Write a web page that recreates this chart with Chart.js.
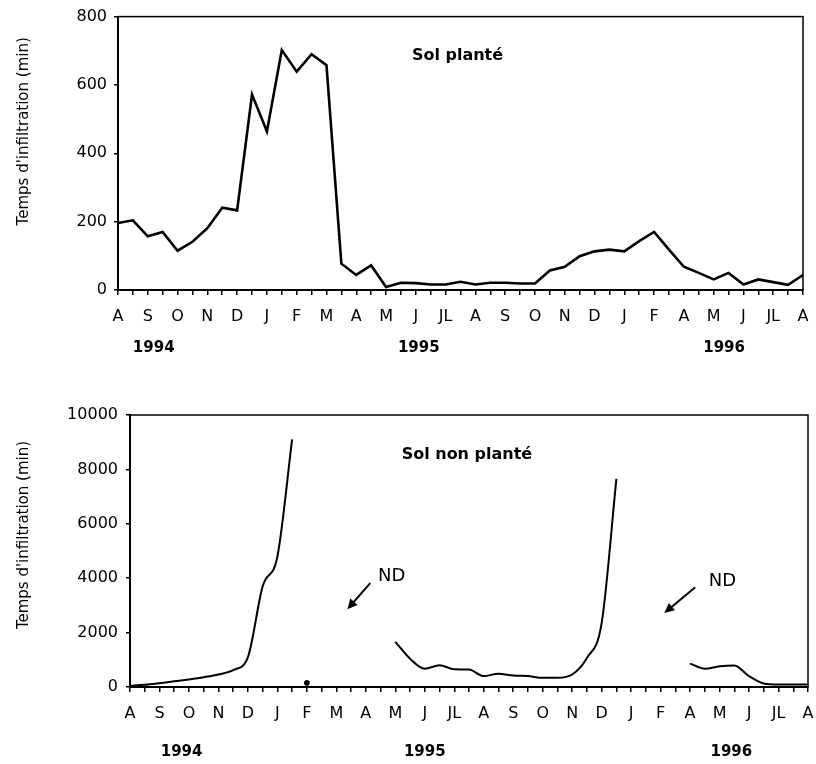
<!DOCTYPE html>
<html lang="fr">
<head>
    <meta charset="UTF-8">
    <title>Temps d'infiltration</title>
    <script src="https://cdn.jsdelivr.net/npm/chart.js"></script>
    <style>
        body { margin: 0; background: #fff; width: 816px; height: 764px; overflow: hidden; }
        .panel { position: absolute; left: 0; width: 816px; }
    </style>
</head>
<body>
    <div class="panel" style="top:0; height:380px;"><canvas id="topChart"></canvas></div>
    <div class="panel" style="top:380px; height:384px;"><canvas id="bottomChart"></canvas></div>

    <script>
        // mois (un relevé tous les quinze jours -> une étiquette sur deux)
        const months = ['A','S','O','N','D','J','F','M','A','M','J','JL','A','S','O','N','D','J','F','A','M','J','JL','A'];
        const years = ['1994', '1995', '1996'];
        const yearPosTop = [2.4, 20.2, 40.7];
        const yearPosBottom = [3.5, 20, 40.8];

        // temps d'infiltration (min)
        const solPlante = [196, 204, 157, 170, 115, 141, 181, 241, 233, 572, 464, 702, 639, 690, 658, 77,
            44, 72, 9, 21, 20, 16, 16, 24, 16, 21, 21, 19, 19, 57, 68, 99,
            113, 118, 113, 143, 170, 118, 68, 50, 31, 50, 16, 31, 23, 15, 44];
        const solNonPlante = [50, 80, 140, 210, 280, 360, 460, 620, 1100, 3700, 4800, 9100, null, null, null, null,
            null, null, 1660, 1040, 670, 800, 650, 640, 400, 490, 420, 400, 340, 340, 460, 1070,
            2350, 7650, null, null, null, null, 860, 670, 760, 790, 400, 130, 90, 90, 90];
        const strayIndex = 12;
        const strayValue = 150;

        // annotations "ND" : texte + flèche (en coordonnées des axes)
        const ndNotes = [
            { text: [17.75, 4060], from: [16.3, 3820], to: [14.75, 2860] },
            { text: [40.2, 3880], from: [38.35, 3670], to: [36.25, 2720] }
        ];

        const labels = [];
        months.forEach((m, k) => {
            labels.push(m);
            if (k < months.length - 1) labels.push('');
        });

        const strayData = labels.map((l, i) => i === strayIndex ? strayValue : null);

        Chart.defaults.font.family = '"DejaVu Sans", sans-serif';
        Chart.defaults.color = '#000';

        const overlay = {
            id: 'overlay',
            afterDraw(chart, args, o) {
                const { ctx, chartArea: a, scales: { x, y } } = chart;
                ctx.save();
                ctx.strokeStyle = '#000';
                ctx.fillStyle = '#000';
                ctx.lineWidth = 1.5;
                ctx.strokeRect(a.left, a.top, a.right - a.left, a.bottom - a.top);

                ctx.textAlign = 'center';
                ctx.textBaseline = 'middle';
                ctx.font = 'bold 16px "DejaVu Sans"';
                ctx.fillText(o.title, x.getPixelForValue(o.titleAt[0]), y.getPixelForValue(o.titleAt[1]));

                ctx.font = 'bold 15px "DejaVu Sans"';
                o.yearPos.forEach((p, k) => {
                    ctx.fillText(years[k], x.getPixelForValue(p), a.bottom + o.yearOffset);
                });

                (o.notes || []).forEach(n => {
                    ctx.font = '18px "DejaVu Sans"';
                    ctx.fillText('ND', x.getPixelForValue(n.text[0]), y.getPixelForValue(n.text[1]));
                    const tx = x.getPixelForValue(n.from[0]), ty = y.getPixelForValue(n.from[1]);
                    const hx = x.getPixelForValue(n.to[0]), hy = y.getPixelForValue(n.to[1]);
                    const ang = Math.atan2(hy - ty, hx - tx);
                    ctx.lineWidth = 2;
                    ctx.beginPath();
                    ctx.moveTo(tx, ty);
                    ctx.lineTo(hx - 6 * Math.cos(ang), hy - 6 * Math.sin(ang));
                    ctx.stroke();
                    ctx.beginPath();
                    ctx.moveTo(hx, hy);
                    ctx.lineTo(hx - 11 * Math.cos(ang - 0.45), hy - 11 * Math.sin(ang - 0.45));
                    ctx.lineTo(hx - 11 * Math.cos(ang + 0.45), hy - 11 * Math.sin(ang + 0.45));
                    ctx.closePath();
                    ctx.fill();
                });

                ctx.font = '15px "DejaVu Sans"';
                ctx.translate(24, (a.top + a.bottom) / 2 + o.yTitleShift);
                ctx.rotate(-Math.PI / 2);
                ctx.fillText("Temps d'infiltration (min)", 0, 0);
                ctx.restore();
            }
        };

        function makeChart(id, datasets, yMax, yStep, geom, overlayOpts) {
            return new Chart(document.getElementById(id), {
                type: 'line',
                data: { labels: labels, datasets: datasets },
                plugins: [overlay],
                options: {
                    responsive: true,
                    maintainAspectRatio: false,
                    animation: false,
                    layout: { padding: { left: 0, right: geom.right, top: geom.top, bottom: 0 } },
                    plugins: {
                        legend: { display: false },
                        tooltip: { enabled: false },
                        overlay: overlayOpts
                    },
                    scales: {
                        x: {
                            offset: false,
                            grid: { drawOnChartArea: false, drawTicks: true, tickLength: 5, color: '#000', lineWidth: 1.5 },
                            border: { color: '#000', width: 2 },
                            ticks: { autoSkip: false, maxRotation: 0, padding: 12, font: { size: 16 } },
                            afterFit: s => {
                                s.height = geom.xHeight;
                                // pas de marge auto pour la première/dernière étiquette
                                s.paddingLeft = 0;
                                s.paddingRight = 0;
                            }
                        },
                        y: {
                            min: 0,
                            max: yMax,
                            grid: { drawOnChartArea: false, drawTicks: true, tickLength: 4, color: '#000', lineWidth: 1.5 },
                            border: { color: '#000', width: 2 },
                            ticks: { stepSize: yStep, padding: geom.yPad, font: { size: 16 }, callback: v => String(v) },
                            afterFit: s => { s.width = geom.yWidth; }
                        }
                    }
                }
            });
        }

        makeChart('topChart', [{
            data: solPlante,
            borderColor: '#000',
            borderWidth: 2.6,
            pointRadius: 0,
            tension: 0,
            fill: false
        }], 800, 200,
            { right: 13, top: 14, xHeight: 90, yWidth: 118, yPad: 7 },
            { title: 'Sol planté', titleAt: [22.8, 686], yearPos: yearPosTop, yearOffset: 58, yTitleShift: -22 });

        makeChart('bottomChart', [{
            data: solNonPlante,
            borderColor: '#000',
            borderWidth: 2,
            pointRadius: 0,
            cubicInterpolationMode: 'monotone',
            fill: false
        }, {
            data: strayData,
            showLine: false,
            pointRadius: 2.5,
            pointBackgroundColor: '#000',
            pointBorderColor: '#000'
        }], 10000, 2000,
            { right: 8, top: 35, xHeight: 77, yWidth: 130, yPad: 8 },
            { title: 'Sol non planté', titleAt: [22.86, 8530], yearPos: yearPosBottom, yearOffset: 65, yTitleShift: -16, notes: ndNotes });
    </script>
</body>
</html>
